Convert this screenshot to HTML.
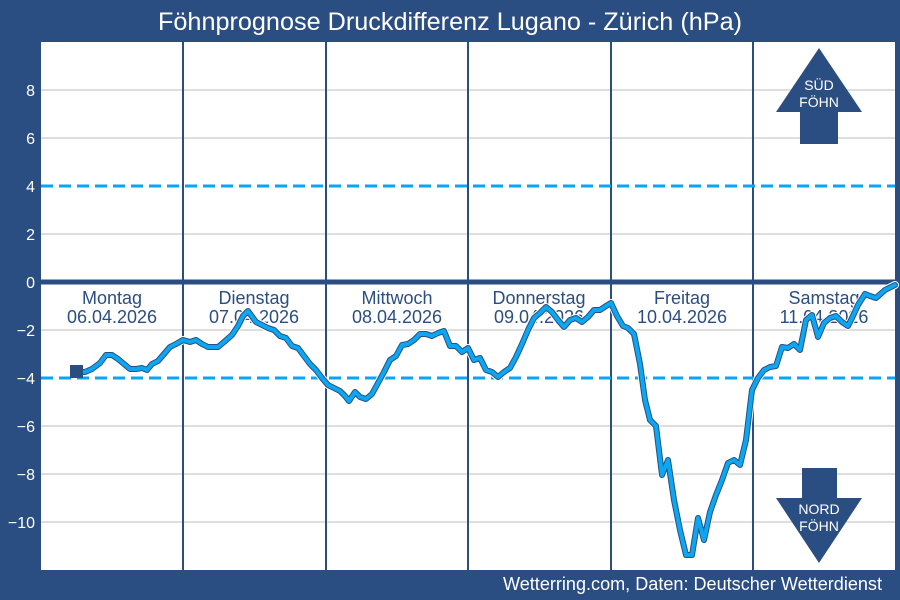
<!DOCTYPE html>
<html><head><meta charset="utf-8"><style>
html,body{margin:0;padding:0;background:#2b4e82;}
svg{display:block;font-family:"Liberation Sans",sans-serif;}
</style></head><body>
<svg width="900" height="600" viewBox="0 0 900 600">
<rect width="900" height="600" fill="#2b4e82"/>
<text x="450" y="30" fill="#fff" font-size="25" text-anchor="middle" textLength="584" lengthAdjust="spacingAndGlyphs">Föhnprognose Druckdifferenz Lugano - Zürich (hPa)</text>
<rect x="41" y="42" width="854" height="528" fill="#fff"/>
<g stroke="#d4d4d4" stroke-width="1.5">
<line x1="41" x2="895" y1="90" y2="90"/><line x1="41" x2="895" y1="138" y2="138"/>
<line x1="41" x2="895" y1="234" y2="234"/><line x1="41" x2="895" y1="330" y2="330"/>
<line x1="41" x2="895" y1="426" y2="426"/><line x1="41" x2="895" y1="474" y2="474"/>
<line x1="41" x2="895" y1="522" y2="522"/>
</g>
<g fill="#fff" font-size="16" text-anchor="end">
<text x="35" y="96">8</text><text x="35" y="144">6</text><text x="35" y="192">4</text>
<text x="35" y="240">2</text><text x="35" y="288">0</text><text x="35" y="336">−2</text>
<text x="35" y="384">−4</text><text x="35" y="432">−6</text><text x="35" y="480">−8</text>
<text x="35" y="528">−10</text>
</g>
<g stroke="#2b4e82" stroke-width="2">
<line x1="183" x2="183" y1="42" y2="570"/><line x1="326" x2="326" y1="42" y2="570"/>
<line x1="468" x2="468" y1="42" y2="570"/><line x1="611" x2="611" y1="42" y2="570"/>
<line x1="753" x2="753" y1="42" y2="570"/>
</g>
<g stroke="#0ea5ee" stroke-width="3" stroke-dasharray="12,6">
<line x1="41" x2="895" y1="186" y2="186"/><line x1="41" x2="895" y1="378" y2="378"/>
</g>
<line x1="41" x2="895" y1="282" y2="282" stroke="#2b4e82" stroke-width="5"/>
<g fill="#2b4e82" font-size="18" text-anchor="middle">
<text x="112" y="304">Montag</text><text x="112" y="323">06.04.2026</text>
<text x="254" y="304">Dienstag</text><text x="254" y="323">07.04.2026</text>
<text x="397" y="304">Mittwoch</text><text x="397" y="323">08.04.2026</text>
<text x="539" y="304">Donnerstag</text><text x="539" y="323">09.04.2026</text>
<text x="682" y="304">Freitag</text><text x="682" y="323">10.04.2026</text>
<text x="824" y="304">Samstag</text><text x="824" y="323">11.04.2026</text>
</g>
<polygon points="819,48 862,112 838,112 838,144 800,144 800,112 776,112" fill="#2b4e82"/>
<polygon points="802,468 837,468 837,498 862,498 819,563 776,498 802,498" fill="#2b4e82"/>
<g fill="#fff" font-size="14" text-anchor="middle">
<text x="819" y="90">SÜD</text><text x="819" y="107">FÖHN</text>
<text x="819" y="514">NORD</text><text x="819" y="531">FÖHN</text>
</g>
<g fill="none" stroke-linejoin="round" stroke-linecap="round">
<polyline stroke="#fff" stroke-width="8" points="77,372 85,372 92,369 100,363 106,355 112,355 118,359 124,364 130,369 136,369 142,368 147,370 152,364 158,361 164,354 170,347 176,344 183,340 190,342 196,340 202,344 208,347 218,347 224,342 232,335 238,326 243,316 248,311 256,322 262,325 268,328 274,330 280,336 286,338 292,346 298,348 304,356 310,364 316,370 322,378 328,385 334,388 340,391 345,396 349,401 355,392 360,397 366,399 372,394 378,383 384,372 390,360 396,356 402,345 408,344 414,340 420,334 426,334 432,336 438,333 444,331 450,346 456,346 462,352 468,348 474,360 480,358 486,370 492,372 498,377 504,372 510,368 516,357 522,344 528,330 534,318 540,313 546,307 552,312 558,320 564,327 570,320 576,318 582,322 588,317 594,310 600,310 606,306 611,303 617,316 623,326 628,328 634,334 640,364 645,400 650,420 656,426 662,475 668,460 674,500 680,530 686,555 692,555 698,518 704,540 710,512 716,495 722,480 728,463 734,460 740,465 746,440 752,390 758,378 764,370 770,367 776,366 782,347 788,348 794,344 800,350 806,320 812,315 818,337 824,323 830,318 836,316 842,322 848,326 852,318 858,305 865,294 870,296 876,298 885,290 895,285"/>
<polyline stroke="#2b4e82" stroke-width="6" points="77,372 85,372 92,369 100,363 106,355 112,355 118,359 124,364 130,369 136,369 142,368 147,370 152,364 158,361 164,354 170,347 176,344 183,340 190,342 196,340 202,344 208,347 218,347 224,342 232,335 238,326 243,316 248,311 256,322 262,325 268,328 274,330 280,336 286,338 292,346 298,348 304,356 310,364 316,370 322,378 328,385 334,388 340,391 345,396 349,401 355,392 360,397 366,399 372,394 378,383 384,372 390,360 396,356 402,345 408,344 414,340 420,334 426,334 432,336 438,333 444,331 450,346 456,346 462,352 468,348 474,360 480,358 486,370 492,372 498,377 504,372 510,368 516,357 522,344 528,330 534,318 540,313 546,307 552,312 558,320 564,327 570,320 576,318 582,322 588,317 594,310 600,310 606,306 611,303 617,316 623,326 628,328 634,334 640,364 645,400 650,420 656,426 662,475 668,460 674,500 680,530 686,555 692,555 698,518 704,540 710,512 716,495 722,480 728,463 734,460 740,465 746,440 752,390 758,378 764,370 770,367 776,366 782,347 788,348 794,344 800,350 806,320 812,315 818,337 824,323 830,318 836,316 842,322 848,326 852,318 858,305 865,294 870,296 876,298 885,290 895,285"/>
<polyline stroke="#0aa8f2" stroke-width="4" points="77,372 85,372 92,369 100,363 106,355 112,355 118,359 124,364 130,369 136,369 142,368 147,370 152,364 158,361 164,354 170,347 176,344 183,340 190,342 196,340 202,344 208,347 218,347 224,342 232,335 238,326 243,316 248,311 256,322 262,325 268,328 274,330 280,336 286,338 292,346 298,348 304,356 310,364 316,370 322,378 328,385 334,388 340,391 345,396 349,401 355,392 360,397 366,399 372,394 378,383 384,372 390,360 396,356 402,345 408,344 414,340 420,334 426,334 432,336 438,333 444,331 450,346 456,346 462,352 468,348 474,360 480,358 486,370 492,372 498,377 504,372 510,368 516,357 522,344 528,330 534,318 540,313 546,307 552,312 558,320 564,327 570,320 576,318 582,322 588,317 594,310 600,310 606,306 611,303 617,316 623,326 628,328 634,334 640,364 645,400 650,420 656,426 662,475 668,460 674,500 680,530 686,555 692,555 698,518 704,540 710,512 716,495 722,480 728,463 734,460 740,465 746,440 752,390 758,378 764,370 770,367 776,366 782,347 788,348 794,344 800,350 806,320 812,315 818,337 824,323 830,318 836,316 842,322 848,326 852,318 858,305 865,294 870,296 876,298 885,290 895,285"/>
</g>
<rect x="70" y="365" width="13" height="13" fill="#2b4e82"/>
<text x="882" y="590" fill="#fff" font-size="18" text-anchor="end" textLength="379" lengthAdjust="spacingAndGlyphs">Wetterring.com, Daten: Deutscher Wetterdienst</text>
</svg>
</body></html>
